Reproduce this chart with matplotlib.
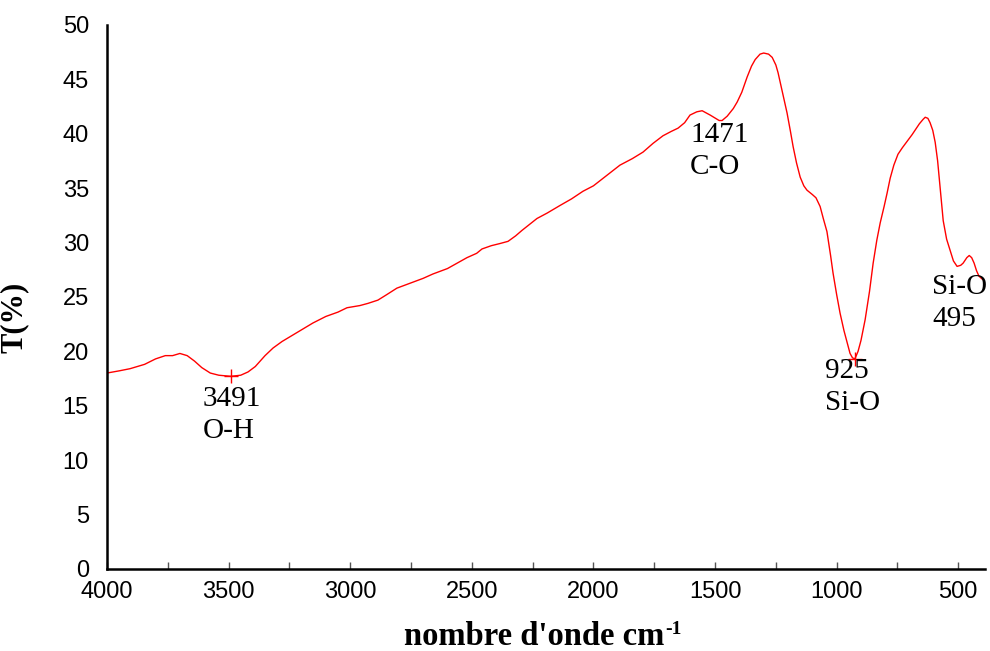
import matplotlib
matplotlib.use("Agg")
import matplotlib.pyplot as plt
from matplotlib.ticker import MultipleLocator

# FTIR spectrum: wavenumber (cm-1) and transmittance (%)
wavenumber = [
    4000, 3950, 3905, 3845, 3800, 3760, 3730, 3700, 3670, 3640, 3610, 3575,
    3540, 3491, 3450, 3420, 3390, 3350, 3317, 3280, 3235, 3190, 3153, 3100,
    3050, 3013, 2960, 2927, 2886, 2850, 2808, 2760, 2700, 2660, 2600, 2560,
    2520, 2480, 2458, 2420, 2384, 2351, 2320, 2294, 2260, 2232, 2190, 2137,
    2090, 2043, 2000, 1960, 1920, 1891, 1840, 1796, 1755, 1714, 1680, 1652,
    1625, 1603, 1575, 1553, 1520, 1483, 1471, 1450, 1425, 1409, 1390, 1368,
    1350, 1335, 1315, 1300, 1280, 1265, 1250, 1241, 1225, 1204, 1190, 1179,
    1165, 1150, 1135, 1122, 1100, 1085, 1068, 1055, 1040, 1025, 1015, 1000,
    986, 970, 957, 945, 935, 925, 912, 900, 883, 865, 850, 835, 821, 805,
    793, 780, 765, 748, 730, 710, 690, 678, 660, 645, 636, 625, 616, 605,
    595, 585, 575, 562, 548, 534, 520, 505, 490, 480, 465, 455, 445, 435,
    425, 415, 400,
]
transmittance = [
    18.0, 18.2, 18.4, 18.8, 19.3, 19.6, 19.6, 19.8, 19.6, 19.1, 18.5, 18.0,
    17.8, 17.7, 17.8, 18.1, 18.6, 19.6, 20.3, 20.9, 21.5, 22.1, 22.6, 23.2,
    23.6, 24.0, 24.2, 24.4, 24.7, 25.2, 25.8, 26.2, 26.7, 27.1, 27.6, 28.1,
    28.6, 29.0, 29.4, 29.7, 29.9, 30.1, 30.6, 31.1, 31.7, 32.2, 32.7, 33.4,
    34.0, 34.7, 35.2, 35.9, 36.6, 37.1, 37.7, 38.3, 39.1, 39.8, 40.2, 40.5,
    41.0, 41.7, 42.0, 42.1, 41.7, 41.2, 41.2, 41.6, 42.3, 42.9, 43.8, 45.2,
    46.2, 46.8, 47.3, 47.4, 47.3, 47.0, 46.3, 45.6, 44.0, 41.9, 40.2, 38.8,
    37.3, 36.0, 35.2, 34.8, 34.4, 34.1, 33.3, 32.2, 31.0, 28.8, 27.2, 25.2,
    23.5, 21.9, 20.8, 19.8, 19.4, 19.3, 20.0, 21.0, 22.9, 25.5, 28.1, 30.2,
    31.8, 33.3, 34.5, 35.9, 37.1, 38.1, 38.7, 39.3, 39.9, 40.3, 40.9, 41.3,
    41.5, 41.4, 41.0, 40.3, 39.2, 37.5, 35.1, 32.0, 30.3, 29.3, 28.3, 27.8,
    27.9, 28.1, 28.6, 28.8, 28.6, 28.1, 27.4, 26.9, 26.6,
]

# Marked band minima
marked_wn = [3491, 925]
marked_t = [17.7, 19.3]

# Band assignments: (x, y of first line, first line, second line)
band_labels = [
    (3605, 15.6, "3491", "O-H"),
    (1603, 39.9, "1471", "C-O"),
    (1048, 18.2, "925", "Si-O"),
    (608, 25.9, "Si-O", "495"),
]

x_ticks = [4000, 3500, 3000, 2500, 2000, 1500, 1000, 500]
y_ticks = [0, 5, 10, 15, 20, 25, 30, 35, 40, 45, 50]

fig = plt.figure(figsize=(9.9, 6.51), dpi=100)
ax = fig.add_axes([0.108, 0.126, 0.887, 0.836])

ax.plot(wavenumber, transmittance, color="#ff0000", linewidth=1.0)
ax.plot(marked_wn, marked_t, linestyle="none", marker="+", color="#ff0000",
        markersize=10, markeredgewidth=1.0)

serif = "Liberation Serif"
for x, y, l1, l2 in band_labels:
    ax.text(x, y, l1, fontsize=21, family=serif, ha="left", va="center")
    ax.text(x, y - 2.95, l2, fontsize=21, family=serif, ha="left", va="center")

ax.set_xlim(4000, 390)
ax.set_ylim(0, 50)
ax.set_xticks(x_ticks)
ax.set_xticklabels([str(v) for v in x_ticks])
ax.xaxis.set_minor_locator(MultipleLocator(250))
ax.set_yticks(y_ticks)
ax.set_yticklabels([str(v) for v in y_ticks])

for lab in ax.get_xticklabels() + ax.get_yticklabels():
    lab.set_family("Liberation Sans")
    lab.set_fontsize(17)

ax.tick_params(axis="x", which="both", direction="in", length=5, width=1,
               pad=9, color="#555555")
ax.tick_params(axis="y", length=0, pad=13)

for side in ("top", "right"):
    ax.spines[side].set_visible(False)
for side in ("left", "bottom"):
    ax.spines[side].set_linewidth(1.8)
    ax.spines[side].set_color("black")

ax.set_ylabel("T(%)", fontsize=22, family=serif, fontweight="bold")
ax.yaxis.set_label_coords(-0.089, 0.463)

# x-axis title with a superscript exponent
xl = fig.text(0.54, 0.009, "nombre d'onde cm", fontsize=23.5, family=serif,
              fontweight="bold", ha="center", va="baseline")
fig.canvas.draw()
bb = xl.get_window_extent()
fig.text((bb.x1 + 1) / fig.bbox.width, (bb.y0 + 18) / fig.bbox.height, "-1",
         fontsize=14, family=serif, fontweight="bold", ha="left",
         va="baseline")

fig.savefig("out.png", dpi=100, facecolor="white")
